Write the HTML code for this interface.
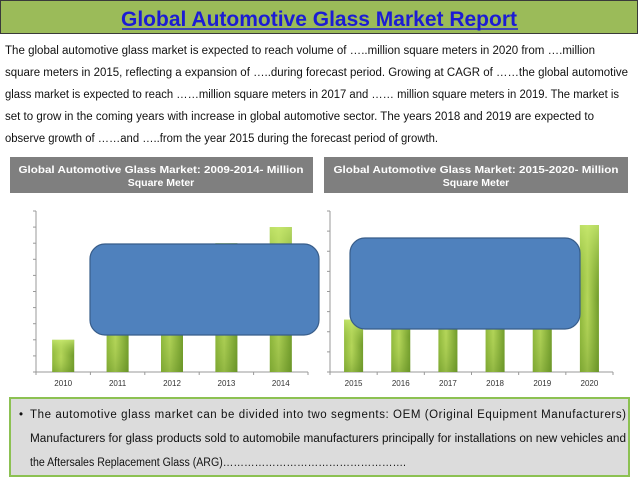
<!DOCTYPE html>
<html><head><meta charset="utf-8"><style>
html,body{margin:0;padding:0;background:#fff;width:638px;height:479px;overflow:hidden}
svg{display:block}
</style></head><body>
<svg width="638" height="479" viewBox="0 0 638 479" font-family="'Liberation Sans', sans-serif">
<defs>
<linearGradient id="barg" x1="0" y1="0" x2="1" y2="0">
<stop offset="0" stop-color="#8fb83c"/><stop offset="0.4" stop-color="#b5d65a"/><stop offset="1" stop-color="#6f9a2a"/>
</linearGradient>
<linearGradient id="barv" x1="0" y1="0" x2="0" y2="1">
<stop offset="0" stop-color="#c9ea70" stop-opacity="0.8"/><stop offset="0.5" stop-color="#9cc446" stop-opacity="0"/><stop offset="1" stop-color="#5f8a22" stop-opacity="0.4"/>
</linearGradient>
</defs>
<rect x="0.5" y="0.5" width="637" height="33" fill="#9bbb59" stroke="#3a3a3a"/>
<text x="319" y="26" text-anchor="middle" font-size="21" font-weight="bold" fill="#1c1cd4" textLength="396" lengthAdjust="spacingAndGlyphs">Global Automotive Glass Market Report</text>
<line x1="122" y1="29" x2="518" y2="29" stroke="#1c1cd4" stroke-width="1.5"/>
<g font-size="11.5" fill="#111">
<text x="5" y="54" textLength="590" lengthAdjust="spacingAndGlyphs">The global automotive glass market is expected to reach volume of …..million square meters in 2020 from ….million</text>
<text x="5" y="76" textLength="623" lengthAdjust="spacingAndGlyphs">square meters in 2015, reflecting a expansion of …..during forecast period. Growing at CAGR of ……the global automotive</text>
<text x="5" y="98" textLength="614" lengthAdjust="spacingAndGlyphs">glass market is expected to reach ……million square meters in 2017 and …… million square meters in 2019. The market is</text>
<text x="5" y="120" textLength="589" lengthAdjust="spacingAndGlyphs">set to grow in the coming years with increase in global automotive sector. The years 2018 and 2019 are expected to</text>
<text x="5" y="142" textLength="433" lengthAdjust="spacingAndGlyphs">observe growth of ……and …..from the year 2015 during the forecast period of growth.</text>
</g>
<rect x="10" y="157" width="303" height="36" fill="#7f7f7f"/>
<g font-size="10.5" font-weight="bold" fill="#fff" text-anchor="middle">
<text x="161" y="173" textLength="285" lengthAdjust="spacingAndGlyphs">Global Automotive Glass Market: 2009-2014- Million</text>
<text x="161" y="186">Square Meter</text></g>
<rect x="324" y="157" width="304" height="36" fill="#7f7f7f"/>
<g font-size="10.5" font-weight="bold" fill="#fff" text-anchor="middle">
<text x="476" y="173" textLength="285" lengthAdjust="spacingAndGlyphs">Global Automotive Glass Market: 2015-2020- Million</text>
<text x="476" y="186">Square Meter</text></g>
<g id="chart1"></g>
<g id="chart2"></g>
<rect x="90" y="244" width="229" height="91" rx="15" fill="#4f81bd" stroke="#385d8a" stroke-width="1.2"/>
<rect x="350" y="238" width="230" height="91" rx="15" fill="#4f81bd" stroke="#385d8a" stroke-width="1.2"/>
<rect x="10" y="398" width="619" height="78" fill="#dcdcdc" stroke="#8cc152" stroke-width="2"/>
<g font-size="11.5" fill="#111">
<text x="19" y="418">•</text>
<text x="30" y="418" textLength="596" lengthAdjust="spacing">The automotive glass market can be divided into two segments: OEM (Original Equipment Manufacturers)</text>
<text x="30" y="442" textLength="596" lengthAdjust="spacingAndGlyphs">Manufacturers for glass products sold to automobile manufacturers principally for installations on new vehicles and</text>
<text x="30" y="466" textLength="376" lengthAdjust="spacingAndGlyphs">the Aftersales Replacement Glass (ARG)…………………………………………….</text>
</g>
</svg>
<script>
const cats1 = ["2010","2011","2012","2013","2014"];
const vals1 = [2, 5, 6.5, 8, 9];
const cats2 = ["2015","2016","2017","2018","2019","2020"];
const vals2 = [2.6, 3.5, 4.3, 5.2, 6.2, 7.3];
const NS = "http://www.w3.org/2000/svg";
function mk(t, a, p){const e=document.createElementNS(NS,t);for(const k in a)e.setAttribute(k,a[k]);p.appendChild(e);return e;}
function draw(id, cats, vals, x0, x1, y0, y1, maxV, nT, bw){
  const g=document.getElementById(id);
  const ys=v=>y0-(v/maxV)*(y0-y1);
  const step=(x1-x0)/cats.length;
  const xs=i=>x0+step*(i+0.5);
  mk("line",{x1:x0,y1:y0,x2:x0,y2:y1,stroke:"#999","stroke-width":1},g);
  mk("line",{x1:x0,y1:y0,x2:x1,y2:y0,stroke:"#999","stroke-width":1},g);
  for(let t=0;t<=nT;t++){const y=ys(maxV*t/nT);mk("line",{x1:x0-3,y1:y,x2:x0,y2:y,stroke:"#999"},g);}
  for(let i=0;i<=cats.length;i++){const x=x0+step*i;mk("line",{x1:x,y1:y0,x2:x,y2:y0+3,stroke:"#999"},g);}
  cats.forEach((c,i)=>{
    const top=ys(vals[i]);
    const r=mk("rect",{x:xs(i)-bw/2,y:top,width:bw,height:y0-top,fill:"url(#barg)"},g);
    
    
    mk("rect",{x:xs(i)-bw/2,y:top,width:bw,height:y0-top,fill:"url(#barv)"},g);
    const t=mk("text",{x:xs(i),y:y0+14,"text-anchor":"middle","font-size":"8",fill:"#333"},g);
    t.textContent=c;
    
    
  });
}
draw("chart1", cats1, vals1, 36, 308, 372, 211, 10, 10, 22);
draw("chart2", cats2, vals2, 330, 613, 372, 211, 8, 8, 19);
</script>
</body></html>
